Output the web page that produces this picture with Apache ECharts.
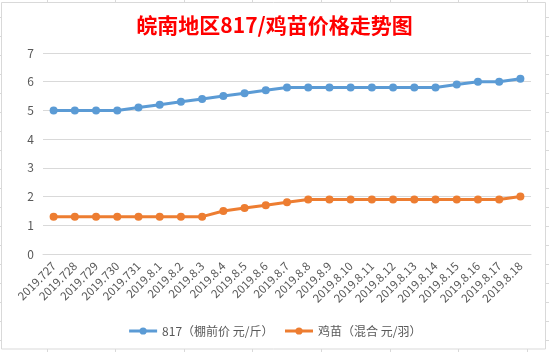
<!DOCTYPE html>
<html>
<head>
<meta charset="utf-8">
<script src="https://cdn.jsdelivr.net/npm/echarts@6/dist/echarts.min.js"></script>
<style>
  html, body { margin: 0; padding: 0; background: #fff; }
  #main { width: 549px; height: 352px; }
</style>
</head>
<body>
<div id="main"></div>
<script>
// 日期
var dates = ['2019.727', '2019.728', '2019.729', '2019.730', '2019.731',
  '2019.8.1', '2019.8.2', '2019.8.3', '2019.8.4', '2019.8.5', '2019.8.6',
  '2019.8.7', '2019.8.8', '2019.8.9', '2019.8.10', '2019.8.11', '2019.8.12',
  '2019.8.13', '2019.8.14', '2019.8.15', '2019.8.16', '2019.8.17', '2019.8.18'];
// 817 棚前价
var price817 = [5, 5, 5, 5, 5.1, 5.2, 5.3, 5.4, 5.5, 5.6, 5.7, 5.8,
  5.8, 5.8, 5.8, 5.8, 5.8, 5.8, 5.8, 5.9, 6, 6, 6.1];
// 鸡苗价
var priceChick = [1.3, 1.3, 1.3, 1.3, 1.3, 1.3, 1.3, 1.3, 1.5, 1.6, 1.7, 1.8,
  1.9, 1.9, 1.9, 1.9, 1.9, 1.9, 1.9, 1.9, 1.9, 1.9, 2];
var seriesNames = ['817（棚前价 元/斤）', '鸡苗（混合 元/羽）'];
var yTicks = [0, 1, 2, 3, 4, 5, 6, 7];

var font = '"Noto Sans CJK SC", "Noto Sans", sans-serif';
var gridColor = '#d9d9d9';

// 表格边框和单元格线
var frame = [{
  type: 'rect',
  shape: { x: 1.5, y: 2.5, width: 544, height: 346.5 },
  style: { fill: 'none', stroke: gridColor, lineWidth: 1 },
  silent: true
}];
[47, 115, 184, 252, 321, 390, 458, 527].forEach(function (x) {
  frame.push({ type: 'line', shape: { x1: x + 0.5, y1: 0, x2: x + 0.5, y2: 2 }, style: { stroke: gridColor } });
  frame.push({ type: 'line', shape: { x1: x + 0.5, y1: 349, x2: x + 0.5, y2: 352 }, style: { stroke: gridColor } });
});
[17, 36, 55, 74, 93, 112, 131, 150, 169, 188, 207, 226, 245, 264, 283, 302, 321, 340].forEach(function (y) {
  frame.push({ type: 'line', shape: { x1: 546, y1: y + 0.5, x2: 549, y2: y + 0.5 }, style: { stroke: gridColor } });
  frame.push({ type: 'line', shape: { x1: 0, y1: y + 0.5, x2: 1, y2: y + 0.5 }, style: { stroke: gridColor } });
});

var myChart = echarts.init(document.getElementById('main'));
var option = {
  backgroundColor: '#fff',
  animation: false,
  textStyle: { fontFamily: font },
  title: {
    text: '皖南地区817/鸡苗价格走势图',
    left: 'center',
    top: 10,
    textStyle: { color: '#ff0000', fontSize: 21, fontWeight: 'bold', fontFamily: font }
  },
  graphic: frame,
  legend: {
    data: seriesNames,
    bottom: 10,
    left: 'center',
    itemWidth: 28,
    itemHeight: 9,
    itemGap: 10,
    lineStyle: { width: 3 },
    textStyle: { color: '#595959', fontSize: 12, fontFamily: font }
  },
  grid: {
    left: 43,
    right: 18,
    top: 53,
    bottom: 98
  },
  xAxis: {
    type: 'category',
    data: dates,
    boundaryGap: true,
    axisLine: { lineStyle: { color: gridColor } },
    axisTick: { show: false },
    axisLabel: {
      rotate: 45,
      interval: 0,
      color: '#595959',
      fontSize: 11.5,
      margin: 10,
      fontFamily: font
    }
  },
  yAxis: {
    type: 'value',
    min: yTicks[0],
    max: yTicks[yTicks.length - 1],
    interval: 1,
    axisLine: { show: false },
    axisTick: { show: false },
    splitLine: { lineStyle: { color: gridColor, width: 1 } },
    axisLabel: { color: '#595959', fontSize: 12, margin: 9, fontFamily: font }
  },
  series: [{
      name: seriesNames[0],
      type: 'line',
      data: price817,
      symbol: 'circle',
      symbolSize: 8,
      itemStyle: { color: '#5b9bd5' },
      lineStyle: { color: '#5b9bd5', width: 3 }
    },
    {
      name: seriesNames[1],
      type: 'line',
      data: priceChick,
      symbol: 'circle',
      symbolSize: 8,
      itemStyle: { color: '#ed7d31' },
      lineStyle: { color: '#ed7d31', width: 3 }
    }
  ]
};
myChart.setOption(option, true);
</script>
</body>
</html>
